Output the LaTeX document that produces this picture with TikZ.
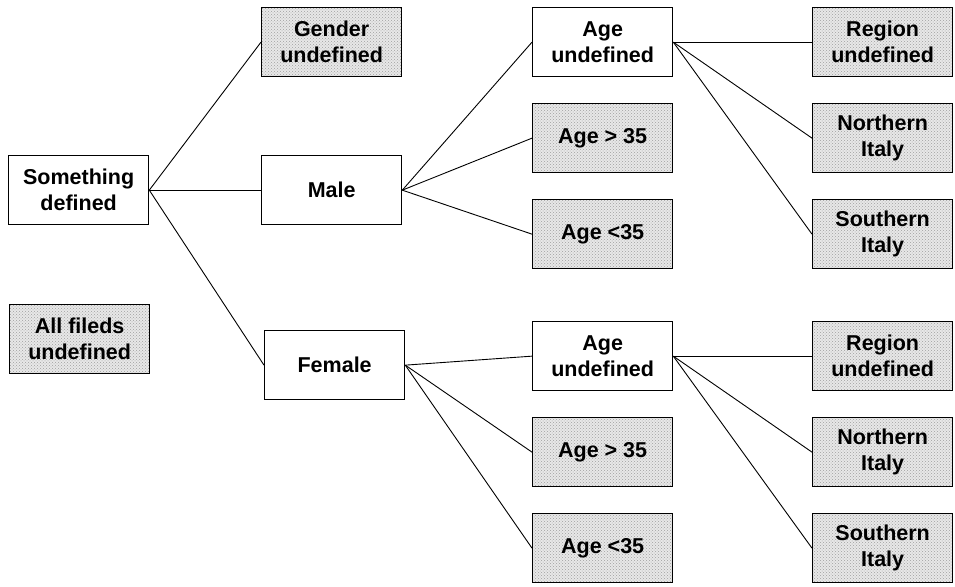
\documentclass[tikz,border=0pt]{standalone}
\usepackage{fontspec}
\setmainfont{Liberation Sans}
\usetikzlibrary{patterns}
\begin{document}
\begin{tikzpicture}[x=1pt,y=-1pt,
  box/.style={draw=black, line width=1.3pt, minimum width=140pt, minimum height=69pt,
    inner sep=0pt, align=center, font=\fontsize{21.5}{26}\selectfont\bfseries, anchor=north west},
  plain/.style={box, fill=white},
  dotted box/.style={box, preaction={fill=gray!18}, pattern=crosshatch dots, pattern color=gray!75},
  edge/.style={draw=black, line width=0.9pt}]
\useasboundingbox (0,0) rectangle (955,586);
% column 1
\node[plain] (sd) at (8,155) {Something\\defined};
\node[dotted box] (all) at (9,304) {All fileds\\undefined};
% column 2
\node[dotted box] (gu) at (261,7) {Gender\\undefined};
\node[plain] (male) at (261,155) {Male};
\node[plain] (female) at (264,330) {Female};
% column 3 top
\node[plain] (au1) at (532,7) {Age\\undefined};
\node[dotted box] (ag1) at (532,103) {Age > 35};
\node[dotted box] (al1) at (532,199) {Age <35};
% column 3 bottom
\node[plain] (au2) at (532,321) {Age\\undefined};
\node[dotted box] (ag2) at (532,417) {Age > 35};
\node[dotted box] (al2) at (532,513) {Age <35};
% column 4 top
\node[dotted box] (ru1) at (812,7) {Region\\undefined};
\node[dotted box] (ni1) at (812,103) {Northern\\Italy};
\node[dotted box] (si1) at (812,199) {Southern\\Italy};
% column 4 bottom
\node[dotted box] (ru2) at (812,321) {Region\\undefined};
\node[dotted box] (ni2) at (812,417) {Northern\\Italy};
\node[dotted box] (si2) at (812,513) {Southern\\Italy};
% edges
\draw[edge] (sd.east) -- (gu.west);
\draw[edge] (sd.east) -- (male.west);
\draw[edge] (sd.east) -- (female.west);
\draw[edge] (male.east) -- (au1.west);
\draw[edge] (male.east) -- (ag1.west);
\draw[edge] (male.east) -- (al1.west);
\draw[edge] (au1.east) -- (ru1.west);
\draw[edge] (au1.east) -- (ni1.west);
\draw[edge] (au1.east) -- (si1.west);
\draw[edge] (female.east) -- (au2.west);
\draw[edge] (female.east) -- (ag2.west);
\draw[edge] (female.east) -- (al2.west);
\draw[edge] (au2.east) -- (ru2.west);
\draw[edge] (au2.east) -- (ni2.west);
\draw[edge] (au2.east) -- (si2.west);
\end{tikzpicture}
\end{document}
